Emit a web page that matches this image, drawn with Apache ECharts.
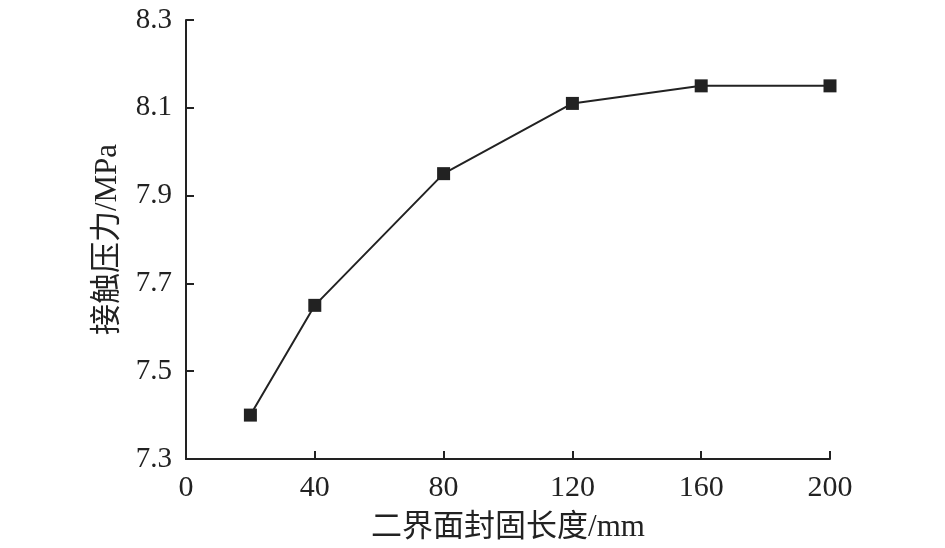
<!DOCTYPE html>
<html>
<head>
<meta charset="utf-8">
<script src="https://cdn.jsdelivr.net/npm/echarts@6/dist/echarts.min.js"></script>
<style>
  html, body { margin: 0; padding: 0; background: #fff; }
  #chart { width: 945px; height: 548px; }
</style>
</head>
<body>
<div id="chart"></div>
<script>
  // sealing length (mm) and contact pressure (MPa)
  const lengths = [20, 40, 80, 120, 160, 200]
  const pressures = [7.40, 7.65, 7.95, 8.11, 8.15, 8.15]
  const xTicks = [0, 40, 80, 120, 160, 200]
  const yTicks = [7.3, 7.5, 7.7, 7.9, 8.1, 8.3]

  const serif = '"Liberation Serif", "Noto Sans CJK SC", serif'
  const axisColor = '#222'

  const myChart = echarts.init(document.getElementById('chart'), null, { devicePixelRatio: 1 })
  const option = {
    animation: false,
    grid: { left: 186, top: 20, right: 115, bottom: 89 },
    xAxis: {
      type: 'value',
      min: xTicks[0],
      max: xTicks[xTicks.length - 1],
      interval: 40,
      name: '二界面封固长度/mm',
      nameLocation: 'middle',
      nameGap: 53,
      nameTextStyle: { fontFamily: serif, fontSize: 31, color: axisColor },
      axisLine: { lineStyle: { color: axisColor, width: 2 } },
      axisTick: { inside: true, length: 8, lineStyle: { color: axisColor, width: 2 } },
      axisLabel: { fontFamily: serif, fontSize: 30, color: axisColor, margin: 14 },
      splitLine: { show: false }
    },
    yAxis: {
      type: 'value',
      min: yTicks[0],
      max: yTicks[yTicks.length - 1],
      interval: 0.2,
      name: '接触压力/MPa',
      nameLocation: 'middle',
      nameGap: 63,
      nameTextStyle: { fontFamily: serif, fontSize: 31, color: axisColor },
      axisLine: { show: true, lineStyle: { color: axisColor, width: 2 } },
      axisTick: { show: true, inside: true, length: 8, lineStyle: { color: axisColor, width: 2 } },
      axisLabel: {
        fontFamily: serif, fontSize: 29, color: axisColor, margin: 14,
        formatter: v => v.toFixed(1)
      },
      splitLine: { show: false }
    },
    series: [
      {
        type: 'line',
        data: lengths.map((x, i) => [x, pressures[i]]),
        symbol: 'rect',
        symbolSize: 13,
        itemStyle: { color: axisColor },
        lineStyle: { color: axisColor, width: 2 }
      }
    ]
  }
  myChart.setOption(option)
</script>
</body>
</html>
